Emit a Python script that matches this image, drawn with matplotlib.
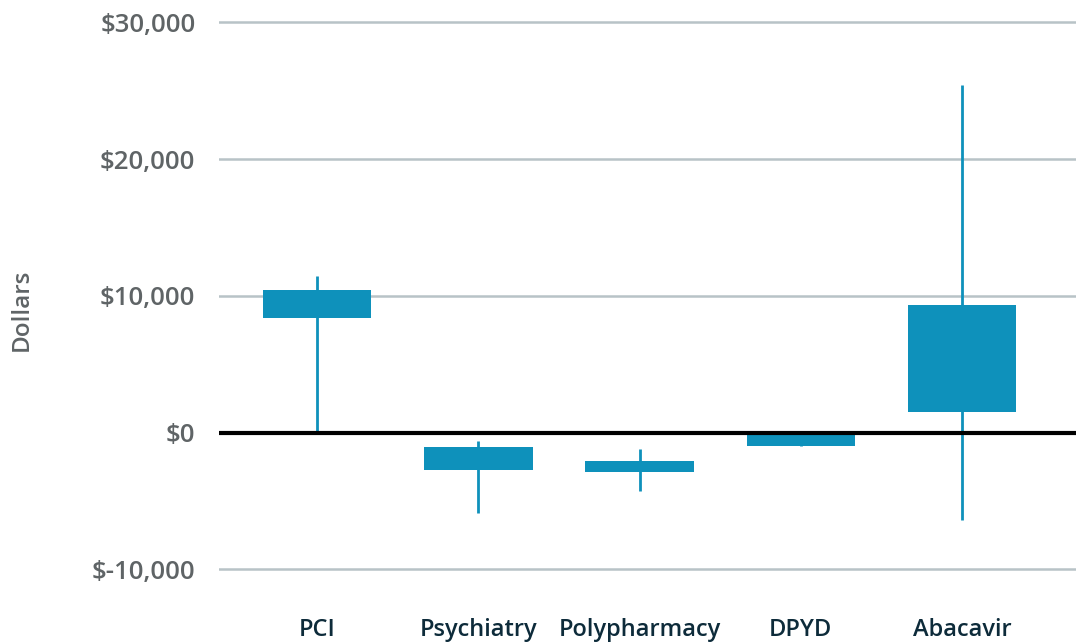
import numpy as np
from matplotlib import pyplot as plt

categories = ['PCI', 'Psychiatry', 'Polypharmacy', 'DPYD', 'Abacavir']
box_low = [8350, -2700, -2900, -950, 1500]
box_high = [10450, -1050, -2070, 0, 9300]
whisker_low = [0, -5850, -4290, -950, -6400]
whisker_high = [11450, -600, -1230, 0, 25400]
y_ticks = [-10000, 0, 10000, 20000, 30000]

blue = '#0e91bb'
gray_text = '#5f6466'
navy = '#0d2b3a'

plt.rcParams['font.family'] = ['Open Sans', 'DejaVu Sans']

fig = plt.figure(figsize=(10.76, 6.43), dpi=100)
W, H = 1076, 643
left, right, top, bottom = 219, 1076, 10, 600
ax = fig.add_axes([left / W, 1 - bottom / H, (right - left) / W, (bottom - top) / H])

x = np.arange(len(categories))
heights = np.array(box_high) - np.array(box_low)

ax.vlines(x, whisker_low, whisker_high, color=blue, linewidth=2, zorder=2)
ax.bar(x, heights, bottom=box_low, width=0.673, color=blue, zorder=3)
ax.axhline(0, color='black', linewidth=3, zorder=4)

ax.set_xlim(-0.608, 4.707)
ax.set_ylim(-12240, 30900)
ax.set_yticks(y_ticks)
ax.set_yticklabels(['$-10,000' if v < 0 else '${:,}'.format(v) for v in y_ticks])
ax.set_xticks(x)
ax.set_xticklabels(categories)

for v in y_ticks:
    if v != 0:
        ax.axhline(v, color='#b8c3c7', linewidth=1.8, zorder=1)

for s in ax.spines.values():
    s.set_visible(False)
ax.tick_params(axis='y', length=0, pad=17, labelsize=18.5, labelcolor=gray_text)
ax.tick_params(axis='x', length=0, pad=13, labelsize=17, labelcolor=navy)
for lbl in ax.get_yticklabels():
    lbl.set_fontweight('semibold')
for lbl in ax.get_xticklabels():
    lbl.set_fontweight('semibold')

fig.text(22 / W, 1 - 310 / H, 'Dollars', rotation=90, ha='center', va='center',
         fontsize=17.5, fontweight='semibold', color=gray_text)

plt.savefig('out.png', dpi=100)
